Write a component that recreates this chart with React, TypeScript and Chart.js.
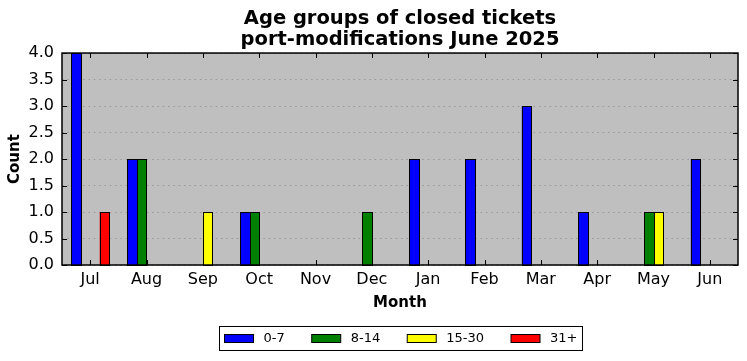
import React, { useEffect, useRef } from "react";
import { Chart, registerables } from "chart.js";

Chart.register(...registerables);

const months = ["Jul", "Aug", "Sep", "Oct", "Nov", "Dec", "Jan", "Feb", "Mar", "Apr", "May", "Jun"];
const age0to7 = [4, 2, 0, 1, 0, 0, 2, 2, 3, 1, 0, 2];
const age8to14 = [0, 2, 0, 1, 0, 1, 0, 0, 0, 0, 1, 0];
const age15to30 = [0, 0, 1, 0, 0, 0, 0, 0, 0, 0, 1, 0];
const age31plus = [1, 0, 0, 0, 0, 0, 0, 0, 0, 0, 0, 0];
const seriesLabels = ["0-7", "8-14", "15-30", "31+"];
const seriesColors = ["#0000ff", "#008000", "#ffff00", "#ff0000"];
const titleLines = ["Age groups of closed tickets", "port-modifications June 2025"];

const FONT = "'DejaVu Sans', sans-serif";

const framePlugin = {
  id: "framePlugin",
  beforeDraw(chart: any) {
    const { ctx, chartArea } = chart;
    ctx.save();
    ctx.fillStyle = "#bfbfbf";
    ctx.fillRect(chartArea.left, chartArea.top, chartArea.right - chartArea.left, chartArea.bottom - chartArea.top);
    ctx.restore();
  },
  afterDatasetsDraw(chart: any) {
    const { ctx } = chart;
    ctx.save();
    ctx.strokeStyle = "#000";
    ctx.lineWidth = 1;
    chart.data.datasets.forEach((_d: any, di: number) => {
      const meta = chart.getDatasetMeta(di);
      meta.data.forEach((el: any) => {
        const { x, y, base, width } = el.getProps(["x", "y", "base", "width"], true);
        if (Math.abs(base - y) < 0.5) return;
        const l = Math.round(x - width / 2) + 0.5;
        const r = Math.round(x + width / 2) + 0.5;
        const t = Math.round(y) + 0.5;
        const b = Math.round(base) + 0.5;
        ctx.fillStyle = el.options.backgroundColor;
        ctx.fillRect(l, t, r - l, b - t);
        ctx.strokeRect(l, t, r - l, b - t);
      });
    });
    ctx.restore();
  },
  afterDraw(chart: any) {
    const { ctx, chartArea } = chart;
    const { left, right, top, bottom } = chartArea;
    const xs = chart.scales.x;
    const ys = chart.scales.y;
    ctx.save();
    ctx.strokeStyle = "#000";
    ctx.lineWidth = 1;
    const tl = 5;
    ctx.beginPath();
    xs.ticks.forEach((_t: any, i: number) => {
      const px = Math.round(xs.getPixelForTick(i)) + 0.5;
      ctx.moveTo(px, bottom);
      ctx.lineTo(px, bottom - tl);
      ctx.moveTo(px, top);
      ctx.lineTo(px, top + tl);
    });
    ys.ticks.forEach((_t: any, i: number) => {
      const py = Math.round(ys.getPixelForTick(i)) + 0.5;
      ctx.moveTo(left, py);
      ctx.lineTo(left + tl, py);
      ctx.moveTo(right, py);
      ctx.lineTo(right - tl, py);
    });
    ctx.stroke();
    ctx.lineWidth = 1.5;
    ctx.strokeRect(left, top, right - left, bottom - top);

    // legend
    const fontSize = 13;
    ctx.font = `${fontSize}px ${FONT}`;
    const boxW = 29;
    const boxH = 8;
    const gapText = 10;
    const itemGap = 27;
    const pad = 5;
    const widths = chart.data.datasets.map((d: any) => ctx.measureText(d.label).width);
    let total = pad * 2;
    widths.forEach((w: number, i: number) => {
      total += boxW + gapText + w + (i < widths.length - 1 ? itemGap : 0);
    });
    const cx = (left + right) / 2;
    const fx = Math.round(cx - total / 2) + 0.5;
    const fy = 326.5;
    const fh = 24;
    ctx.lineWidth = 1;
    ctx.strokeStyle = "#000";
    ctx.strokeRect(fx, fy, Math.round(total), fh);
    let x = fx + pad;
    const midY = fy + fh / 2;
    chart.data.datasets.forEach((d: any, i: number) => {
      ctx.fillStyle = d.backgroundColor;
      ctx.fillRect(x, midY - boxH / 2, boxW, boxH);
      ctx.strokeRect(x, midY - boxH / 2, boxW, boxH);
      ctx.fillStyle = "#000";
      ctx.textBaseline = "middle";
      ctx.textAlign = "left";
      ctx.fillText(d.label, x + boxW + gapText, midY);
      x += boxW + gapText + widths[i] + itemGap;
    });
    ctx.restore();
  },
};

export default function App() {
  const ref = useRef<HTMLCanvasElement>(null);
  useEffect(() => {
    if (!ref.current) return;
    const seriesData = [age0to7, age8to14, age15to30, age31plus];
    const chart = new Chart(ref.current, {
      type: "bar",
      data: {
        labels: months,
        datasets: seriesData.map((d, i) => ({
          label: seriesLabels[i],
          data: d,
          backgroundColor: seriesColors[i],
          borderWidth: 0,
          inflateAmount: 0,
          categoryPercentage: 0.675,
          barPercentage: 1,
        })),
      },
      options: {
        responsive: false,
        animation: false,
        layout: { padding: { left: 0, right: 9, top: 0, bottom: 0 } },
        plugins: {
          legend: { display: false },
          tooltip: { enabled: false },
          title: {
            display: true,
            fullSize: false,
            text: titleLines,
            color: "#000",
            font: { family: FONT, size: 19.5, weight: "bold", lineHeight: 1.06 },
            padding: { top: 9, bottom: 2.7 },
          },
        },
        scales: {
          x: {
            grid: { display: false, drawTicks: false },
            border: { display: false },
            ticks: { color: "#000", font: { family: FONT, size: 16 }, padding: 5 },
            title: {
              display: true,
              text: "Month",
              color: "#000",
              font: { family: FONT, size: 15, weight: "bold", lineHeight: 1.2 },
              padding: { top: 0, bottom: 49 },
            },
            afterFit(scale: any) {
              scale.height = 96;
            },
          },
          y: {
            min: 0,
            max: 4,
            grid: {
              display: true,
              drawTicks: false,
              color: "rgba(120,120,120,0.55)",
              lineWidth: 1,
            },
            border: { display: false, dash: [1.5, 3.8] },
            ticks: {
              stepSize: 0.5,
              color: "#000",
              font: { family: FONT, size: 16 },
              padding: 8,
              callback: (v: any) => Number(v).toFixed(1),
            },
            title: {
              display: true,
              text: "Count",
              color: "#000",
              font: { family: FONT, size: 15, weight: "bold", lineHeight: 1.2 },
              padding: { top: 6.5, bottom: 0 },
            },
            afterFit(scale: any) {
              scale.width = 62;
            },
          },
        },
      },
      plugins: [framePlugin],
    });
    return () => chart.destroy();
  }, []);
  return (
    <div style={{ position: "fixed", left: 0, top: 0, width: 747, height: 361, background: "#fff" }}>
      <canvas ref={ref} width={747} height={361} />
    </div>
  );
}
